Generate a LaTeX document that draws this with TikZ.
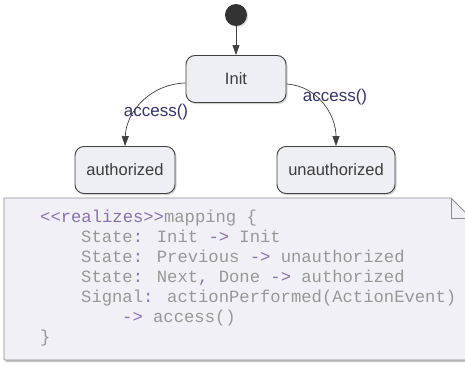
\documentclass[tikz,border=0pt]{standalone}
\usepackage{fontspec}
\setmainfont{Liberation Sans}
\newfontfamily\codefont{Liberation Mono}
\usetikzlibrary{arrows.meta,shadows}

\definecolor{stfill}{RGB}{238,238,245}
\definecolor{stline}{RGB}{64,64,64}
\definecolor{stext}{RGB}{60,60,60}
\definecolor{lbl}{RGB}{52,52,110}
\definecolor{notefill}{RGB}{240,240,246}
\definecolor{noteline}{RGB}{140,140,140}
\definecolor{codegray}{RGB}{152,152,152}
\definecolor{codekw}{RGB}{140,112,178}

\newcommand{\kw}[1]{\textcolor{codekw}{#1}}

\tikzset{
  state/.style={draw=stline, line width=0.9pt, fill=stfill, rounded corners=9pt,
    minimum height=47pt, text=stext, font=\fontsize{16.5}{18}\selectfont,
    drop shadow={shadow xshift=1.5pt, shadow yshift=-1.5pt, opacity=0.35}},
  trans/.style={draw=stline, line width=0.7pt, -{Triangle[length=10pt,width=7pt]}},
  translabel/.style={text=lbl, font=\fontsize{17}{19}\selectfont, inner sep=0pt},
  codeline/.style={anchor=base west, inner sep=0pt, text=codegray,
    font=\codefont\fontsize{17.2}{20}\selectfont},
}

\begin{document}
\begin{tikzpicture}[x=1pt, y=-1pt]
  \clip (0,0) rectangle (465,364);
  \fill[white] (0,0) rectangle (465,364);

  % initial pseudo-state
  \node[circle, fill=black!80, minimum size=22pt, inner sep=0pt,
        drop shadow={shadow xshift=1.2pt, shadow yshift=-1.2pt, opacity=0.3}]
        (start) at (236,15) {};

  % states
  \node[state, minimum width=100pt] (init) at (236,79) {Init};
  \node[state, minimum width=100pt] (auth) at (125,170) {authorized};
  \node[state, minimum width=118pt] (unauth) at (336,170) {unauthorized};

  % transitions
  \draw[trans] (start) -- (init);
  \draw[trans] (init.west |- 0,83) .. controls (150,84) and (126,112) .. (auth.north);
  \draw[trans] (init.east |- 0,84) .. controls (318,86) and (336,115) .. (unauth.north);

  \node[translabel] (lblA) at (156,112) {access()};
  \node[translabel] (lblB) at (335,97) {access()};

  % mapping note with folded corner
  \path[fill=notefill, draw=noteline, line width=0.9pt,
        drop shadow={shadow xshift=1.5pt, shadow yshift=-2pt, opacity=0.45}]
    (4,198) -- (451,198) -- (471,218) -- (471,360) -- (4,360) -- cycle;
  \draw[noteline, line width=0.9pt] (451,198) -- (451,218) -- (471,218);

  \node[codeline] (c1) at (40,222) {\kw{\textless\textless realizes\textgreater\textgreater}mapping \{};
  \node[codeline] (c2) at (81,242) {State\kw{:} Init \kw{->} Init};
  \node[codeline] (c3) at (81,262) {State\kw{:} Previous \kw{->} unauthorized};
  \node[codeline] (c4) at (81,282) {State\kw{:} Next\kw{,} Done \kw{->} authorized};
  \node[codeline] (c5) at (81,302) {Signal\kw{:} actionPerformed(ActionEvent)};
  \node[codeline] (c6) at (122,322) {\kw{->} access()};
  \node[codeline] (c7) at (40,342) {\}};
\end{tikzpicture}
\end{document}
